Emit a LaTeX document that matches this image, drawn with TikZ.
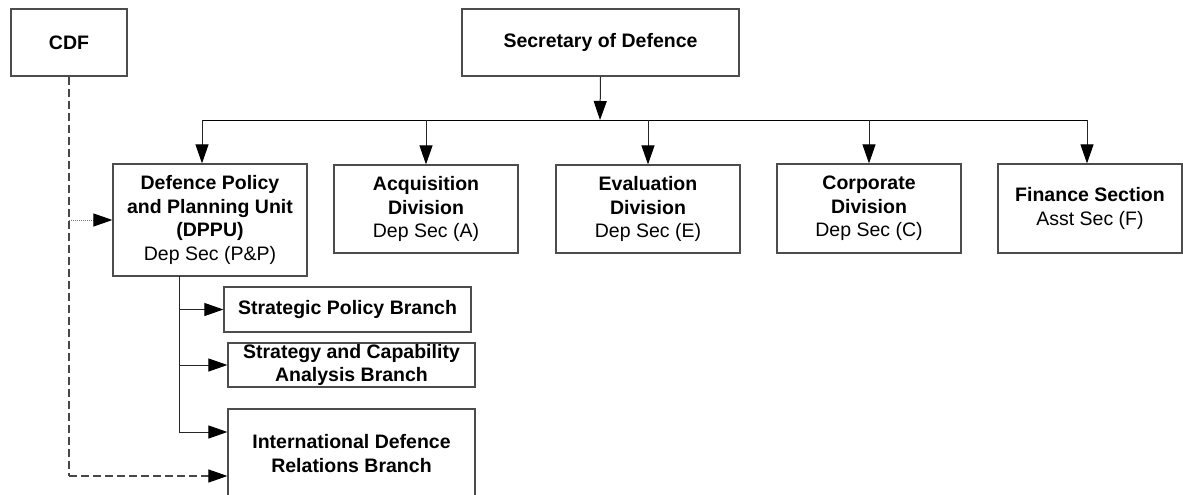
\documentclass[tikz,border=0pt]{standalone}
\usepackage{fontspec}
\setmainfont{Liberation Sans}
\usetikzlibrary{arrows.meta}
\begin{document}
\begin{tikzpicture}[x=1pt,y=-1pt,
  box/.style={draw=black!70, line width=1.2pt, inner sep=0pt, align=center, fill=white,
    font=\fontsize{19.5}{23.5}\selectfont},
  conn/.style={line width=1pt, black!85},
  tip/.style={-{Triangle[length=19pt,width=13pt,color=black]}},
  arr/.style={conn, tip},
  dsh/.style={line width=1.1pt, black!72, dash pattern=on 8pt off 4pt},
  dot/.style={line width=1pt, black!55, dash pattern=on 1pt off 1pt, tip},
]
\useasboundingbox (0,0) rectangle (1183,495);
\node[box, minimum width=116pt, minimum height=67pt] (cdf) at (69,42.5) {\textbf{CDF}};
\node[box, minimum width=277pt, minimum height=67pt] (sec) at (600.5,42.5) {\textbf{Secretary of Defence}};
\node[box, minimum width=194pt, minimum height=112pt] (dppu) at (210,220)
  {\textbf{Defence Policy}\\\textbf{and Planning Unit}\\\textbf{(DPPU)}\\Dep Sec (P\&P)};
\node[box, minimum width=184pt, minimum height=88pt] (acq) at (426,209)
  {\textbf{Acquisition}\\\textbf{Division}\\Dep Sec (A)};
\node[box, minimum width=184pt, minimum height=88pt] (eva) at (648,209)
  {\textbf{Evaluation}\\\textbf{Division}\\Dep Sec (E)};
\node[box, minimum width=184pt, minimum height=89pt] (cor) at (869,208.5)
  {\textbf{Corporate}\\\textbf{Division}\\Dep Sec (C)};
\node[box, minimum width=184pt, minimum height=89pt] (fin) at (1090,208.5)
  {\textbf{Finance Section}\\Asst Sec (F)};
\node[box, minimum width=247pt, minimum height=45pt] (spb) at (347.5,309.5)
  {\textbf{Strategic Policy Branch}};
\node[box, minimum width=247pt, minimum height=44pt] (sca) at (351.5,365)
  {\textbf{Strategy and Capability}\\\textbf{Analysis Branch}};
\node[box, minimum width=247pt, minimum height=89pt] (idr) at (351.5,453.5)
  {\textbf{International Defence}\\\textbf{Relations Branch}};

% top bus
\coordinate (bus) at (600,120);
\coordinate (bL) at (202,120);
\coordinate (bR) at (1087,120);
\draw[arr] (sec.south) -- (bus);
\draw[line width=1pt, black] (bL) -- (bR);
\draw[arr] (bL) -- (bL |- dppu.north);
\draw[arr] (acq.north |- bus) -- (acq.north);
\draw[arr] (eva.north |- bus) -- (eva.north);
\draw[arr] (cor.north |- bus) -- (cor.north);
\draw[arr] (bR) -- (bR |- fin.north);

% DPPU trunk
\coordinate (tT) at (179,276);
\coordinate (tE) at (179,432);
\draw[conn] (tT) -- (tE);
\draw[arr] (tT |- spb.west) -- (spb.west);
\draw[arr] (tT |- sca.west) -- (sca.west);
\draw[arr] (tE) -- (tE -| idr.west);

% CDF links
\coordinate (cD) at (69,220);
\coordinate (cB) at (69,476);
\draw[dsh] (cdf.south) -- (cB);
\draw[dsh, tip] (cB) -- (cB -| idr.west);
\draw[dot] (cD) -- (dppu.west);
\end{tikzpicture}
\end{document}
